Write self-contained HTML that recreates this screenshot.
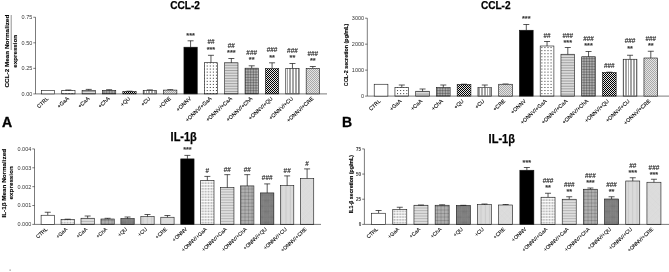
<!DOCTYPE html>
<html><head><meta charset="utf-8"><title>Figure</title>
<style>html,body{margin:0;padding:0;background:#fff}svg{display:block}</style></head>
<body><svg width="669" height="272" viewBox="0 0 669 272">
<rect width="669" height="272" fill="#fff"/>

<path d="M35.5 17.25V93.9H327" fill="none" stroke="#222" stroke-width="0.6"/>
<path d="M33.3 93.90H35.5" stroke="#222" stroke-width="0.6"/>
<text x="32.3" y="95.80" font-size="5.5" font-weight="normal" text-anchor="end" fill="#333" font-family="Liberation Sans, Arial, sans-serif">0.00</text>
<path d="M33.3 68.35H35.5" stroke="#222" stroke-width="0.6"/>
<text x="32.3" y="70.25" font-size="5.5" font-weight="normal" text-anchor="end" fill="#333" font-family="Liberation Sans, Arial, sans-serif">0.25</text>
<path d="M33.3 42.80H35.5" stroke="#222" stroke-width="0.6"/>
<text x="32.3" y="44.70" font-size="5.5" font-weight="normal" text-anchor="end" fill="#333" font-family="Liberation Sans, Arial, sans-serif">0.50</text>
<path d="M33.3 17.25H35.5" stroke="#222" stroke-width="0.6"/>
<text x="32.3" y="19.15" font-size="5.5" font-weight="normal" text-anchor="end" fill="#333" font-family="Liberation Sans, Arial, sans-serif">0.75</text>
<rect x="41.35" y="90.4" width="13.3" height="3.50" fill="#fff" stroke="#111" stroke-width="0.6"/>
<text transform="translate(49.00 99.10) rotate(-43)" font-size="5.3" text-anchor="end" fill="#000" stroke="#000" stroke-width="0.1" font-family="Liberation Sans, Arial, sans-serif">CTRL</text>
<path d="M68.37 90.4V90M65.37 90H71.37" stroke="#111" stroke-width="0.7" fill="none"/>
<clipPath id="c1"><rect x="61.72" y="90.4" width="13.3" height="3.5"/></clipPath><g clip-path="url(#c1)"><path d="M62.93 90.06V96.97M66 90.06V96.97M69.07 90.06V96.97M72.14 90.06V96.97" stroke="#333" stroke-width="1.0" stroke-dasharray="1.0 2.07" fill="none"/></g>
<rect x="61.72" y="90.4" width="13.3" height="3.50" fill="none" stroke="#111" stroke-width="0.6"/>
<text transform="translate(69.37 99.10) rotate(-43)" font-size="5.3" text-anchor="end" fill="#000" stroke="#000" stroke-width="0.1" font-family="Liberation Sans, Arial, sans-serif">+GaA</text>
<path d="M88.74 90.4V89.4M85.74 89.4H91.74" stroke="#111" stroke-width="0.7" fill="none"/>
<clipPath id="c2"><rect x="82.09" y="90.4" width="13.3" height="3.5"/></clipPath><g clip-path="url(#c2)"><path d="M82.09 89.91H95.39M82.09 91.53H95.39M82.09 93.15H95.39" stroke="#111" stroke-width="0.4" fill="none"/></g>
<rect x="82.09" y="90.4" width="13.3" height="3.50" fill="none" stroke="#111" stroke-width="0.6"/>
<text transform="translate(89.74 99.10) rotate(-43)" font-size="5.3" text-anchor="end" fill="#000" stroke="#000" stroke-width="0.1" font-family="Liberation Sans, Arial, sans-serif">+CaA</text>
<path d="M109.11 90.4V89.7M106.11 89.7H112.11" stroke="#111" stroke-width="0.7" fill="none"/>
<clipPath id="c3"><rect x="102.46" y="90.4" width="13.3" height="3.5"/></clipPath><g clip-path="url(#c3)"><path d="M102.46 90.4H115.76M102.46 92H115.76M102.46 93.6H115.76M103.2 90.4V93.9M104.8 90.4V93.9M106.4 90.4V93.9M108 90.4V93.9M109.6 90.4V93.9M111.2 90.4V93.9M112.8 90.4V93.9M114.4 90.4V93.9" stroke="#111" stroke-width="0.45" fill="none"/></g>
<rect x="102.46" y="90.4" width="13.3" height="3.50" fill="none" stroke="#111" stroke-width="0.6"/>
<text transform="translate(110.11 99.10) rotate(-43)" font-size="5.3" text-anchor="end" fill="#000" stroke="#000" stroke-width="0.1" font-family="Liberation Sans, Arial, sans-serif">+ChA</text>
<path d="M129.48 91.6V91.2M126.48 91.2H132.48" stroke="#111" stroke-width="0.7" fill="none"/>
<clipPath id="c4"><rect x="122.83" y="91.6" width="13.3" height="2.3"/></clipPath><g clip-path="url(#c4)"><path d="M121 91.5H138.13M120 92.5H138.13M121 93.5H138.13" stroke="#000" stroke-width="1" stroke-dasharray="1 1" fill="none" shape-rendering="crispEdges"/><rect x="122.83" y="91.6" width="13.3" height="2.3" fill="#000" opacity="0.1"/></g>
<rect x="122.83" y="91.6" width="13.3" height="2.30" fill="none" stroke="#111" stroke-width="0.6"/>
<text transform="translate(130.48 99.10) rotate(-43)" font-size="5.3" text-anchor="end" fill="#000" stroke="#000" stroke-width="0.1" font-family="Liberation Sans, Arial, sans-serif">+QU</text>
<path d="M149.85 90.4V89.9M146.85 89.9H152.85" stroke="#111" stroke-width="0.7" fill="none"/>
<clipPath id="c5"><rect x="143.2" y="90.4" width="13.3" height="3.5"/></clipPath><g clip-path="url(#c5)"><path d="M143.38 90.4V93.9M144.93 90.4V93.9M146.48 90.4V93.9M148.03 90.4V93.9M149.58 90.4V93.9M151.13 90.4V93.9M152.68 90.4V93.9M154.23 90.4V93.9M155.78 90.4V93.9" stroke="#a4a4a4" stroke-width="1" fill="none" shape-rendering="crispEdges"/></g>
<rect x="143.20" y="90.4" width="13.3" height="3.50" fill="none" stroke="#111" stroke-width="0.6"/>
<text transform="translate(150.85 99.10) rotate(-43)" font-size="5.3" text-anchor="end" fill="#000" stroke="#000" stroke-width="0.1" font-family="Liberation Sans, Arial, sans-serif">+CU</text>
<path d="M170.22 90.1V89.7M167.22 89.7H173.22" stroke="#111" stroke-width="0.7" fill="none"/>
<clipPath id="c6"><rect x="163.57" y="90.1" width="13.3" height="3.8"/></clipPath><g clip-path="url(#c6)"><rect x="163.57" y="90.1" width="13.3" height="3.8" fill="#e4e4e4"/><path d="M162 90.5H178.87M161 91.5H178.87M162 92.5H178.87M161 93.5H178.87" stroke="#a8a8a8" stroke-width="1" stroke-dasharray="1 1" fill="none" shape-rendering="crispEdges"/></g>
<rect x="163.57" y="90.1" width="13.3" height="3.80" fill="none" stroke="#111" stroke-width="0.6"/>
<text transform="translate(171.22 99.10) rotate(-43)" font-size="5.3" text-anchor="end" fill="#000" stroke="#000" stroke-width="0.1" font-family="Liberation Sans, Arial, sans-serif">+CRE</text>
<path d="M190.59 47.2V40.8M187.59 40.8H193.59" stroke="#111" stroke-width="0.7" fill="none"/>
<rect x="183.94" y="47.2" width="13.3" height="46.70" fill="#000" stroke="#111" stroke-width="0.6"/>
<text x="190.59" y="37.80" font-size="7.3" font-weight="bold" text-anchor="middle" fill="#333" stroke="#333" stroke-width="0.1" font-family="Liberation Sans, Arial, sans-serif">***</text>
<text transform="translate(191.59 99.10) rotate(-43)" font-size="5.3" text-anchor="end" fill="#000" stroke="#000" stroke-width="0.1" font-family="Liberation Sans, Arial, sans-serif">+ONNV</text>
<path d="M210.96 62.7V55.3M207.96 55.3H213.96" stroke="#111" stroke-width="0.7" fill="none"/>
<clipPath id="c7"><rect x="204.31" y="62.7" width="13.3" height="31.2"/></clipPath><g clip-path="url(#c7)"><path d="M204.15 62.43V96.97M207.22 62.43V96.97M210.29 62.43V96.97M213.36 62.43V96.97M216.43 62.43V96.97" stroke="#333" stroke-width="1.0" stroke-dasharray="1.0 2.07" fill="none"/></g>
<rect x="204.31" y="62.7" width="13.3" height="31.20" fill="none" stroke="#111" stroke-width="0.6"/>
<text x="210.96" y="44.30" font-size="6.4" text-anchor="middle" fill="#111" stroke="#111" stroke-width="0.1" font-family="Liberation Sans, Arial, sans-serif">##</text>
<text x="210.96" y="52.05" font-size="7.3" font-weight="bold" text-anchor="middle" fill="#333" stroke="#333" stroke-width="0.1" font-family="Liberation Sans, Arial, sans-serif">***</text>
<text transform="translate(211.96 99.10) rotate(-43)" font-size="5.3" text-anchor="end" fill="#000" stroke="#000" stroke-width="0.1" font-family="Liberation Sans, Arial, sans-serif">+ONNV/+GaA</text>
<path d="M231.33 62.8V58.5M228.33 58.5H234.33" stroke="#111" stroke-width="0.7" fill="none"/>
<clipPath id="c8"><rect x="224.68" y="62.8" width="13.3" height="31.1"/></clipPath><g clip-path="url(#c8)"><path d="M224.68 62.37H237.98M224.68 63.99H237.98M224.68 65.61H237.98M224.68 67.23H237.98M224.68 68.85H237.98M224.68 70.47H237.98M224.68 72.09H237.98M224.68 73.71H237.98M224.68 75.33H237.98M224.68 76.95H237.98M224.68 78.57H237.98M224.68 80.19H237.98M224.68 81.81H237.98M224.68 83.43H237.98M224.68 85.05H237.98M224.68 86.67H237.98M224.68 88.29H237.98M224.68 89.91H237.98M224.68 91.53H237.98M224.68 93.15H237.98" stroke="#111" stroke-width="0.4" fill="none"/></g>
<rect x="224.68" y="62.8" width="13.3" height="31.10" fill="none" stroke="#111" stroke-width="0.6"/>
<text x="231.33" y="47.80" font-size="6.4" text-anchor="middle" fill="#111" stroke="#111" stroke-width="0.1" font-family="Liberation Sans, Arial, sans-serif">##</text>
<text x="231.33" y="55.30" font-size="7.3" font-weight="bold" text-anchor="middle" fill="#333" stroke="#333" stroke-width="0.1" font-family="Liberation Sans, Arial, sans-serif">***</text>
<text transform="translate(232.33 99.10) rotate(-43)" font-size="5.3" text-anchor="end" fill="#000" stroke="#000" stroke-width="0.1" font-family="Liberation Sans, Arial, sans-serif">+ONNV/+CaA</text>
<path d="M251.70 68.2V65.8M248.70 65.8H254.70" stroke="#111" stroke-width="0.7" fill="none"/>
<clipPath id="c9"><rect x="245.05" y="68.2" width="13.3" height="25.7"/></clipPath><g clip-path="url(#c9)"><path d="M245.05 68H258.35M245.05 69.6H258.35M245.05 71.2H258.35M245.05 72.8H258.35M245.05 74.4H258.35M245.05 76H258.35M245.05 77.6H258.35M245.05 79.2H258.35M245.05 80.8H258.35M245.05 82.4H258.35M245.05 84H258.35M245.05 85.6H258.35M245.05 87.2H258.35M245.05 88.8H258.35M245.05 90.4H258.35M245.05 92H258.35M245.05 93.6H258.35M245.6 68.2V93.9M247.2 68.2V93.9M248.8 68.2V93.9M250.4 68.2V93.9M252 68.2V93.9M253.6 68.2V93.9M255.2 68.2V93.9M256.8 68.2V93.9" stroke="#111" stroke-width="0.45" fill="none"/></g>
<rect x="245.05" y="68.2" width="13.3" height="25.70" fill="none" stroke="#111" stroke-width="0.6"/>
<text x="251.70" y="54.80" font-size="6.4" text-anchor="middle" fill="#111" stroke="#111" stroke-width="0.1" font-family="Liberation Sans, Arial, sans-serif">###</text>
<text x="251.70" y="62.05" font-size="7.3" font-weight="bold" text-anchor="middle" fill="#333" stroke="#333" stroke-width="0.1" font-family="Liberation Sans, Arial, sans-serif">**</text>
<text transform="translate(252.70 99.10) rotate(-43)" font-size="5.3" text-anchor="end" fill="#000" stroke="#000" stroke-width="0.1" font-family="Liberation Sans, Arial, sans-serif">+ONNV/+ChA</text>
<path d="M272.07 68.5V62.8M269.07 62.8H275.07" stroke="#111" stroke-width="0.7" fill="none"/>
<clipPath id="c10"><rect x="265.42" y="68.5" width="13.3" height="25.4"/></clipPath><g clip-path="url(#c10)"><path d="M264 68.5H280.72M263 69.5H280.72M264 70.5H280.72M263 71.5H280.72M264 72.5H280.72M263 73.5H280.72M264 74.5H280.72M263 75.5H280.72M264 76.5H280.72M263 77.5H280.72M264 78.5H280.72M263 79.5H280.72M264 80.5H280.72M263 81.5H280.72M264 82.5H280.72M263 83.5H280.72M264 84.5H280.72M263 85.5H280.72M264 86.5H280.72M263 87.5H280.72M264 88.5H280.72M263 89.5H280.72M264 90.5H280.72M263 91.5H280.72M264 92.5H280.72M263 93.5H280.72" stroke="#000" stroke-width="1" stroke-dasharray="1 1" fill="none" shape-rendering="crispEdges"/><rect x="265.42" y="68.5" width="13.3" height="25.4" fill="#000" opacity="0.1"/></g>
<rect x="265.42" y="68.5" width="13.3" height="25.40" fill="none" stroke="#111" stroke-width="0.6"/>
<text x="272.07" y="52.30" font-size="6.4" text-anchor="middle" fill="#111" stroke="#111" stroke-width="0.1" font-family="Liberation Sans, Arial, sans-serif">###</text>
<text x="272.07" y="59.55" font-size="7.3" font-weight="bold" text-anchor="middle" fill="#333" stroke="#333" stroke-width="0.1" font-family="Liberation Sans, Arial, sans-serif">**</text>
<text transform="translate(273.07 99.10) rotate(-43)" font-size="5.3" text-anchor="end" fill="#000" stroke="#000" stroke-width="0.1" font-family="Liberation Sans, Arial, sans-serif">+ONNV/+QU</text>
<path d="M292.44 68.3V63.5M289.44 63.5H295.44" stroke="#111" stroke-width="0.7" fill="none"/>
<clipPath id="c11"><rect x="285.79" y="68.3" width="13.3" height="25.6"/></clipPath><g clip-path="url(#c11)"><path d="M285.97 68.3V93.9M287.52 68.3V93.9M289.07 68.3V93.9M290.62 68.3V93.9M292.18 68.3V93.9M293.73 68.3V93.9M295.28 68.3V93.9M296.83 68.3V93.9M298.38 68.3V93.9" stroke="#a4a4a4" stroke-width="1" fill="none" shape-rendering="crispEdges"/></g>
<rect x="285.79" y="68.3" width="13.3" height="25.60" fill="none" stroke="#111" stroke-width="0.6"/>
<text x="292.44" y="53.05" font-size="6.4" text-anchor="middle" fill="#111" stroke="#111" stroke-width="0.1" font-family="Liberation Sans, Arial, sans-serif">###</text>
<text x="292.44" y="60.30" font-size="7.3" font-weight="bold" text-anchor="middle" fill="#333" stroke="#333" stroke-width="0.1" font-family="Liberation Sans, Arial, sans-serif">**</text>
<text transform="translate(293.44 99.10) rotate(-43)" font-size="5.3" text-anchor="end" fill="#000" stroke="#000" stroke-width="0.1" font-family="Liberation Sans, Arial, sans-serif">+ONNV/+CU</text>
<path d="M312.81 68.3V66.5M309.81 66.5H315.81" stroke="#111" stroke-width="0.7" fill="none"/>
<clipPath id="c12"><rect x="306.16" y="68.3" width="13.3" height="25.6"/></clipPath><g clip-path="url(#c12)"><rect x="306.16" y="68.3" width="13.3" height="25.6" fill="#e4e4e4"/><path d="M304 68.5H321.46M305 69.5H321.46M304 70.5H321.46M305 71.5H321.46M304 72.5H321.46M305 73.5H321.46M304 74.5H321.46M305 75.5H321.46M304 76.5H321.46M305 77.5H321.46M304 78.5H321.46M305 79.5H321.46M304 80.5H321.46M305 81.5H321.46M304 82.5H321.46M305 83.5H321.46M304 84.5H321.46M305 85.5H321.46M304 86.5H321.46M305 87.5H321.46M304 88.5H321.46M305 89.5H321.46M304 90.5H321.46M305 91.5H321.46M304 92.5H321.46M305 93.5H321.46" stroke="#a8a8a8" stroke-width="1" stroke-dasharray="1 1" fill="none" shape-rendering="crispEdges"/></g>
<rect x="306.16" y="68.3" width="13.3" height="25.60" fill="none" stroke="#111" stroke-width="0.6"/>
<text x="312.81" y="55.55" font-size="6.4" text-anchor="middle" fill="#111" stroke="#111" stroke-width="0.1" font-family="Liberation Sans, Arial, sans-serif">###</text>
<text x="312.81" y="62.80" font-size="7.3" font-weight="bold" text-anchor="middle" fill="#333" stroke="#333" stroke-width="0.1" font-family="Liberation Sans, Arial, sans-serif">**</text>
<text transform="translate(313.81 99.10) rotate(-43)" font-size="5.3" text-anchor="end" fill="#000" stroke="#000" stroke-width="0.1" font-family="Liberation Sans, Arial, sans-serif">+ONNV/+CRE</text>
<text x="170.2" y="8.8" font-size="11.3" font-weight="bold" textLength="29.8" lengthAdjust="spacingAndGlyphs" fill="#000" stroke="#000" stroke-width="0.25" font-family="Liberation Sans, Arial, sans-serif">CCL-2</text>
<text transform="translate(9.1 87.5) rotate(-90)" font-size="5.8" font-weight="bold" textLength="72.8" lengthAdjust="spacingAndGlyphs" fill="#000" stroke="#000" stroke-width="0.12" font-family="Liberation Sans, Arial, sans-serif">CCL-2 Mean Normalized</text>
<text transform="translate(16.7 67.7) rotate(-90)" font-size="5.8" font-weight="bold" textLength="32.8" lengthAdjust="spacingAndGlyphs" fill="#000" stroke="#000" stroke-width="0.12" font-family="Liberation Sans, Arial, sans-serif">expression</text>
<path d="M367.3 18.2V96.1H669" fill="none" stroke="#222" stroke-width="0.6"/>
<path d="M365.1 96.10H367.3" stroke="#222" stroke-width="0.6"/>
<text x="364.1" y="98.00" font-size="5.5" font-weight="normal" text-anchor="end" fill="#333" font-family="Liberation Sans, Arial, sans-serif">0</text>
<path d="M365.1 70.13H367.3" stroke="#222" stroke-width="0.6"/>
<text x="364.1" y="72.03" font-size="5.5" font-weight="normal" text-anchor="end" fill="#333" font-family="Liberation Sans, Arial, sans-serif">1000</text>
<path d="M365.1 44.17H367.3" stroke="#222" stroke-width="0.6"/>
<text x="364.1" y="46.07" font-size="5.5" font-weight="normal" text-anchor="end" fill="#333" font-family="Liberation Sans, Arial, sans-serif">2000</text>
<path d="M365.1 18.20H367.3" stroke="#222" stroke-width="0.6"/>
<text x="364.1" y="20.10" font-size="5.5" font-weight="normal" text-anchor="end" fill="#333" font-family="Liberation Sans, Arial, sans-serif">3000</text>
<rect x="374.20" y="84.25" width="13.7" height="11.85" fill="#fff" stroke="#111" stroke-width="0.6"/>
<text transform="translate(381.05 101.60) rotate(-43)" font-size="5.3" text-anchor="end" fill="#000" stroke="#000" stroke-width="0.1" font-family="Liberation Sans, Arial, sans-serif">CTRL</text>
<path d="M401.80 87.5V85M398.80 85H404.80" stroke="#111" stroke-width="0.7" fill="none"/>
<clipPath id="c13"><rect x="394.95" y="87.5" width="13.7" height="8.6"/></clipPath><g clip-path="url(#c13)"><path d="M394.5 86.99V99.17M397.56 86.99V99.17M400.63 86.99V99.17M403.7 86.99V99.17M406.77 86.99V99.17" stroke="#333" stroke-width="1.0" stroke-dasharray="1.0 2.07" fill="none"/></g>
<rect x="394.95" y="87.5" width="13.7" height="8.60" fill="none" stroke="#111" stroke-width="0.6"/>
<text transform="translate(401.80 101.60) rotate(-43)" font-size="5.3" text-anchor="end" fill="#000" stroke="#000" stroke-width="0.1" font-family="Liberation Sans, Arial, sans-serif">+GaA</text>
<path d="M422.55 91.25V89M419.55 89H425.55" stroke="#111" stroke-width="0.7" fill="none"/>
<clipPath id="c14"><rect x="415.7" y="91.25" width="13.7" height="4.85"/></clipPath><g clip-path="url(#c14)"><path d="M415.7 91.53H429.4M415.7 93.15H429.4M415.7 94.77H429.4" stroke="#111" stroke-width="0.4" fill="none"/></g>
<rect x="415.70" y="91.25" width="13.7" height="4.85" fill="none" stroke="#111" stroke-width="0.6"/>
<text transform="translate(422.55 101.60) rotate(-43)" font-size="5.3" text-anchor="end" fill="#000" stroke="#000" stroke-width="0.1" font-family="Liberation Sans, Arial, sans-serif">+CaA</text>
<path d="M443.30 87.5V85M440.30 85H446.30" stroke="#111" stroke-width="0.7" fill="none"/>
<clipPath id="c15"><rect x="436.45" y="87.5" width="13.7" height="8.6"/></clipPath><g clip-path="url(#c15)"><path d="M436.45 87.2H450.15M436.45 88.8H450.15M436.45 90.4H450.15M436.45 92H450.15M436.45 93.6H450.15M436.45 95.2H450.15M436 87.5V96.1M437.6 87.5V96.1M439.2 87.5V96.1M440.8 87.5V96.1M442.4 87.5V96.1M444 87.5V96.1M445.6 87.5V96.1M447.2 87.5V96.1M448.8 87.5V96.1" stroke="#111" stroke-width="0.45" fill="none"/></g>
<rect x="436.45" y="87.5" width="13.7" height="8.60" fill="none" stroke="#111" stroke-width="0.6"/>
<text transform="translate(443.30 101.60) rotate(-43)" font-size="5.3" text-anchor="end" fill="#000" stroke="#000" stroke-width="0.1" font-family="Liberation Sans, Arial, sans-serif">+ChA</text>
<path d="M464.05 84.5V84.2M461.05 84.2H467.05" stroke="#111" stroke-width="0.7" fill="none"/>
<clipPath id="c16"><rect x="457.2" y="84.5" width="13.7" height="11.6"/></clipPath><g clip-path="url(#c16)"><path d="M456 84.5H472.9M455 85.5H472.9M456 86.5H472.9M455 87.5H472.9M456 88.5H472.9M455 89.5H472.9M456 90.5H472.9M455 91.5H472.9M456 92.5H472.9M455 93.5H472.9M456 94.5H472.9M455 95.5H472.9M456 96.5H472.9" stroke="#000" stroke-width="1" stroke-dasharray="1 1" fill="none" shape-rendering="crispEdges"/><rect x="457.2" y="84.5" width="13.7" height="11.6" fill="#000" opacity="0.1"/></g>
<rect x="457.20" y="84.5" width="13.7" height="11.60" fill="none" stroke="#111" stroke-width="0.6"/>
<text transform="translate(464.05 101.60) rotate(-43)" font-size="5.3" text-anchor="end" fill="#000" stroke="#000" stroke-width="0.1" font-family="Liberation Sans, Arial, sans-serif">+QU</text>
<path d="M484.80 87.5V85M481.80 85H487.80" stroke="#111" stroke-width="0.7" fill="none"/>
<clipPath id="c17"><rect x="477.95" y="87.5" width="13.7" height="8.6"/></clipPath><g clip-path="url(#c17)"><path d="M478.18 87.5V96.1M479.73 87.5V96.1M481.28 87.5V96.1M482.83 87.5V96.1M484.38 87.5V96.1M485.93 87.5V96.1M487.48 87.5V96.1M489.03 87.5V96.1M490.58 87.5V96.1" stroke="#a4a4a4" stroke-width="1" fill="none" shape-rendering="crispEdges"/></g>
<rect x="477.95" y="87.5" width="13.7" height="8.60" fill="none" stroke="#111" stroke-width="0.6"/>
<text transform="translate(484.80 101.60) rotate(-43)" font-size="5.3" text-anchor="end" fill="#000" stroke="#000" stroke-width="0.1" font-family="Liberation Sans, Arial, sans-serif">+CU</text>
<path d="M505.55 84.25V84M502.55 84H508.55" stroke="#111" stroke-width="0.7" fill="none"/>
<clipPath id="c18"><rect x="498.7" y="84.25" width="13.7" height="11.85"/></clipPath><g clip-path="url(#c18)"><rect x="498.7" y="84.25" width="13.7" height="11.85" fill="#e4e4e4"/><path d="M496 84.5H514.4M497 85.5H514.4M496 86.5H514.4M497 87.5H514.4M496 88.5H514.4M497 89.5H514.4M496 90.5H514.4M497 91.5H514.4M496 92.5H514.4M497 93.5H514.4M496 94.5H514.4M497 95.5H514.4M496 96.5H514.4" stroke="#a8a8a8" stroke-width="1" stroke-dasharray="1 1" fill="none" shape-rendering="crispEdges"/></g>
<rect x="498.70" y="84.25" width="13.7" height="11.85" fill="none" stroke="#111" stroke-width="0.6"/>
<text transform="translate(505.55 101.60) rotate(-43)" font-size="5.3" text-anchor="end" fill="#000" stroke="#000" stroke-width="0.1" font-family="Liberation Sans, Arial, sans-serif">+CRE</text>
<path d="M526.30 30.25V24.5M523.30 24.5H529.30" stroke="#111" stroke-width="0.7" fill="none"/>
<rect x="519.45" y="30.25" width="13.7" height="65.85" fill="#000" stroke="#111" stroke-width="0.6"/>
<text x="526.30" y="21.30" font-size="7.3" font-weight="bold" text-anchor="middle" fill="#333" stroke="#333" stroke-width="0.1" font-family="Liberation Sans, Arial, sans-serif">***</text>
<text transform="translate(526.30 101.60) rotate(-43)" font-size="5.3" text-anchor="end" fill="#000" stroke="#000" stroke-width="0.1" font-family="Liberation Sans, Arial, sans-serif">+ONNV</text>
<path d="M547.05 46V41.5M544.05 41.5H550.05" stroke="#111" stroke-width="0.7" fill="none"/>
<clipPath id="c19"><rect x="540.2" y="46" width="13.7" height="50.1"/></clipPath><g clip-path="url(#c19)"><path d="M538.78 44.01V99.17M541.86 44.01V99.17M544.93 44.01V99.17M548 44.01V99.17M551.07 44.01V99.17" stroke="#333" stroke-width="1.0" stroke-dasharray="1.0 2.07" fill="none"/></g>
<rect x="540.20" y="46" width="13.7" height="50.10" fill="none" stroke="#111" stroke-width="0.6"/>
<text x="547.05" y="38.05" font-size="6.4" text-anchor="middle" fill="#111" stroke="#111" stroke-width="0.1" font-family="Liberation Sans, Arial, sans-serif">##</text>
<text transform="translate(547.05 101.60) rotate(-43)" font-size="5.3" text-anchor="end" fill="#000" stroke="#000" stroke-width="0.1" font-family="Liberation Sans, Arial, sans-serif">+ONNV/+GaA</text>
<path d="M567.80 54.25V47.5M564.80 47.5H570.80" stroke="#111" stroke-width="0.7" fill="none"/>
<clipPath id="c20"><rect x="560.95" y="54.25" width="13.7" height="41.85"/></clipPath><g clip-path="url(#c20)"><path d="M560.95 54.27H574.65M560.95 55.89H574.65M560.95 57.51H574.65M560.95 59.13H574.65M560.95 60.75H574.65M560.95 62.37H574.65M560.95 63.99H574.65M560.95 65.61H574.65M560.95 67.23H574.65M560.95 68.85H574.65M560.95 70.47H574.65M560.95 72.09H574.65M560.95 73.71H574.65M560.95 75.33H574.65M560.95 76.95H574.65M560.95 78.57H574.65M560.95 80.19H574.65M560.95 81.81H574.65M560.95 83.43H574.65M560.95 85.05H574.65M560.95 86.67H574.65M560.95 88.29H574.65M560.95 89.91H574.65M560.95 91.53H574.65M560.95 93.15H574.65M560.95 94.77H574.65" stroke="#111" stroke-width="0.4" fill="none"/></g>
<rect x="560.95" y="54.25" width="13.7" height="41.85" fill="none" stroke="#111" stroke-width="0.6"/>
<text x="567.80" y="37.80" font-size="6.4" text-anchor="middle" fill="#111" stroke="#111" stroke-width="0.1" font-family="Liberation Sans, Arial, sans-serif">###</text>
<text x="567.80" y="45.05" font-size="7.3" font-weight="bold" text-anchor="middle" fill="#333" stroke="#333" stroke-width="0.1" font-family="Liberation Sans, Arial, sans-serif">***</text>
<text transform="translate(567.80 101.60) rotate(-43)" font-size="5.3" text-anchor="end" fill="#000" stroke="#000" stroke-width="0.1" font-family="Liberation Sans, Arial, sans-serif">+ONNV/+CaA</text>
<path d="M588.55 56.75V51.5M585.55 51.5H591.55" stroke="#111" stroke-width="0.7" fill="none"/>
<clipPath id="c21"><rect x="581.7" y="56.75" width="13.7" height="39.35"/></clipPath><g clip-path="url(#c21)"><path d="M581.7 56.8H595.4M581.7 58.4H595.4M581.7 60H595.4M581.7 61.6H595.4M581.7 63.2H595.4M581.7 64.8H595.4M581.7 66.4H595.4M581.7 68H595.4M581.7 69.6H595.4M581.7 71.2H595.4M581.7 72.8H595.4M581.7 74.4H595.4M581.7 76H595.4M581.7 77.6H595.4M581.7 79.2H595.4M581.7 80.8H595.4M581.7 82.4H595.4M581.7 84H595.4M581.7 85.6H595.4M581.7 87.2H595.4M581.7 88.8H595.4M581.7 90.4H595.4M581.7 92H595.4M581.7 93.6H595.4M581.7 95.2H595.4M581.6 56.75V96.1M583.2 56.75V96.1M584.8 56.75V96.1M586.4 56.75V96.1M588 56.75V96.1M589.6 56.75V96.1M591.2 56.75V96.1M592.8 56.75V96.1M594.4 56.75V96.1" stroke="#111" stroke-width="0.45" fill="none"/></g>
<rect x="581.70" y="56.75" width="13.7" height="39.35" fill="none" stroke="#111" stroke-width="0.6"/>
<text x="588.55" y="41.05" font-size="6.4" text-anchor="middle" fill="#111" stroke="#111" stroke-width="0.1" font-family="Liberation Sans, Arial, sans-serif">###</text>
<text x="588.55" y="48.30" font-size="7.3" font-weight="bold" text-anchor="middle" fill="#333" stroke="#333" stroke-width="0.1" font-family="Liberation Sans, Arial, sans-serif">***</text>
<text transform="translate(588.55 101.60) rotate(-43)" font-size="5.3" text-anchor="end" fill="#000" stroke="#000" stroke-width="0.1" font-family="Liberation Sans, Arial, sans-serif">+ONNV/+ChA</text>
<path d="M609.30 72.5V72.2M606.30 72.2H612.30" stroke="#111" stroke-width="0.7" fill="none"/>
<clipPath id="c22"><rect x="602.45" y="72.5" width="13.7" height="23.6"/></clipPath><g clip-path="url(#c22)"><path d="M600 72.5H618.15M601 73.5H618.15M600 74.5H618.15M601 75.5H618.15M600 76.5H618.15M601 77.5H618.15M600 78.5H618.15M601 79.5H618.15M600 80.5H618.15M601 81.5H618.15M600 82.5H618.15M601 83.5H618.15M600 84.5H618.15M601 85.5H618.15M600 86.5H618.15M601 87.5H618.15M600 88.5H618.15M601 89.5H618.15M600 90.5H618.15M601 91.5H618.15M600 92.5H618.15M601 93.5H618.15M600 94.5H618.15M601 95.5H618.15M600 96.5H618.15" stroke="#000" stroke-width="1" stroke-dasharray="1 1" fill="none" shape-rendering="crispEdges"/><rect x="602.45" y="72.5" width="13.7" height="23.6" fill="#000" opacity="0.1"/></g>
<rect x="602.45" y="72.5" width="13.7" height="23.60" fill="none" stroke="#111" stroke-width="0.6"/>
<text x="609.30" y="68.30" font-size="6.4" text-anchor="middle" fill="#111" stroke="#111" stroke-width="0.1" font-family="Liberation Sans, Arial, sans-serif">###</text>
<text transform="translate(609.30 101.60) rotate(-43)" font-size="5.3" text-anchor="end" fill="#000" stroke="#000" stroke-width="0.1" font-family="Liberation Sans, Arial, sans-serif">+ONNV/+QU</text>
<path d="M630.05 59.25V55.25M627.05 55.25H633.05" stroke="#111" stroke-width="0.7" fill="none"/>
<clipPath id="c23"><rect x="623.2" y="59.25" width="13.7" height="36.85"/></clipPath><g clip-path="url(#c23)"><path d="M623.88 59.25V96.1M625.42 59.25V96.1M626.97 59.25V96.1M628.52 59.25V96.1M630.07 59.25V96.1M631.62 59.25V96.1M633.17 59.25V96.1M634.72 59.25V96.1M636.27 59.25V96.1" stroke="#a4a4a4" stroke-width="1" fill="none" shape-rendering="crispEdges"/></g>
<rect x="623.20" y="59.25" width="13.7" height="36.85" fill="none" stroke="#111" stroke-width="0.6"/>
<text x="630.05" y="43.30" font-size="6.4" text-anchor="middle" fill="#111" stroke="#111" stroke-width="0.1" font-family="Liberation Sans, Arial, sans-serif">###</text>
<text x="630.05" y="51.30" font-size="7.3" font-weight="bold" text-anchor="middle" fill="#333" stroke="#333" stroke-width="0.1" font-family="Liberation Sans, Arial, sans-serif">**</text>
<text transform="translate(630.05 101.60) rotate(-43)" font-size="5.3" text-anchor="end" fill="#000" stroke="#000" stroke-width="0.1" font-family="Liberation Sans, Arial, sans-serif">+ONNV/+CU</text>
<path d="M650.80 58V51.25M647.80 51.25H653.80" stroke="#111" stroke-width="0.7" fill="none"/>
<clipPath id="c24"><rect x="643.95" y="58" width="13.7" height="38.1"/></clipPath><g clip-path="url(#c24)"><rect x="643.95" y="58" width="13.7" height="38.1" fill="#e4e4e4"/><path d="M642 58.5H659.65M641 59.5H659.65M642 60.5H659.65M641 61.5H659.65M642 62.5H659.65M641 63.5H659.65M642 64.5H659.65M641 65.5H659.65M642 66.5H659.65M641 67.5H659.65M642 68.5H659.65M641 69.5H659.65M642 70.5H659.65M641 71.5H659.65M642 72.5H659.65M641 73.5H659.65M642 74.5H659.65M641 75.5H659.65M642 76.5H659.65M641 77.5H659.65M642 78.5H659.65M641 79.5H659.65M642 80.5H659.65M641 81.5H659.65M642 82.5H659.65M641 83.5H659.65M642 84.5H659.65M641 85.5H659.65M642 86.5H659.65M641 87.5H659.65M642 88.5H659.65M641 89.5H659.65M642 90.5H659.65M641 91.5H659.65M642 92.5H659.65M641 93.5H659.65M642 94.5H659.65M641 95.5H659.65M642 96.5H659.65" stroke="#a8a8a8" stroke-width="1" stroke-dasharray="1 1" fill="none" shape-rendering="crispEdges"/></g>
<rect x="643.95" y="58" width="13.7" height="38.10" fill="none" stroke="#111" stroke-width="0.6"/>
<text x="650.80" y="41.05" font-size="6.4" text-anchor="middle" fill="#111" stroke="#111" stroke-width="0.1" font-family="Liberation Sans, Arial, sans-serif">###</text>
<text x="650.80" y="48.30" font-size="7.3" font-weight="bold" text-anchor="middle" fill="#333" stroke="#333" stroke-width="0.1" font-family="Liberation Sans, Arial, sans-serif">**</text>
<text transform="translate(650.80 101.60) rotate(-43)" font-size="5.3" text-anchor="end" fill="#000" stroke="#000" stroke-width="0.1" font-family="Liberation Sans, Arial, sans-serif">+ONNV/+CRE</text>
<text x="480.9" y="8.7" font-size="11.3" font-weight="bold" textLength="29.7" lengthAdjust="spacingAndGlyphs" fill="#000" stroke="#000" stroke-width="0.25" font-family="Liberation Sans, Arial, sans-serif">CCL-2</text>
<text transform="translate(348.3 86.2) rotate(-90)" font-size="5.4" font-weight="bold" textLength="62.5" lengthAdjust="spacingAndGlyphs" fill="#000" stroke="#000" stroke-width="0.12" font-family="Liberation Sans, Arial, sans-serif">CCL-2 secretion (pg/mL)</text>
<path d="M34.5 148.9V224.4H321" fill="none" stroke="#222" stroke-width="0.6"/>
<path d="M32.3 224.40H34.5" stroke="#222" stroke-width="0.6"/>
<text x="31.3" y="226.30" font-size="5.5" font-weight="normal" text-anchor="end" fill="#333" font-family="Liberation Sans, Arial, sans-serif">0.000</text>
<path d="M32.3 205.53H34.5" stroke="#222" stroke-width="0.6"/>
<text x="31.3" y="207.43" font-size="5.5" font-weight="normal" text-anchor="end" fill="#333" font-family="Liberation Sans, Arial, sans-serif">0.001</text>
<path d="M32.3 186.65H34.5" stroke="#222" stroke-width="0.6"/>
<text x="31.3" y="188.55" font-size="5.5" font-weight="normal" text-anchor="end" fill="#333" font-family="Liberation Sans, Arial, sans-serif">0.002</text>
<path d="M32.3 167.78H34.5" stroke="#222" stroke-width="0.6"/>
<text x="31.3" y="169.68" font-size="5.5" font-weight="normal" text-anchor="end" fill="#333" font-family="Liberation Sans, Arial, sans-serif">0.003</text>
<path d="M32.3 148.90H34.5" stroke="#222" stroke-width="0.6"/>
<text x="31.3" y="150.80" font-size="5.5" font-weight="normal" text-anchor="end" fill="#333" font-family="Liberation Sans, Arial, sans-serif">0.004</text>
<path d="M47.75 215.25V212.25M44.75 212.25H50.75" stroke="#111" stroke-width="0.7" fill="none"/>
<rect x="41.10" y="215.25" width="13.3" height="9.15" fill="#fff" stroke="#111" stroke-width="0.6"/>
<text transform="translate(47.75 229.70) rotate(-43)" font-size="5.15" text-anchor="end" fill="#000" stroke="#000" stroke-width="0.1" font-family="Liberation Sans, Arial, sans-serif">CTRL</text>
<path d="M67.70 219.5V219.2M64.70 219.2H70.70" stroke="#111" stroke-width="0.7" fill="none"/>
<clipPath id="c25"><rect x="61.05" y="219.5" width="13.3" height="4.9"/></clipPath><g clip-path="url(#c25)"><path d="M61.23 219.03V225.95M62.77 219.03V225.95M64.33 219.03V225.95M65.88 219.03V225.95M67.42 219.03V225.95M68.97 219.03V225.95M70.52 219.03V225.95M72.07 219.03V225.95M73.62 219.03V225.95" stroke="#333" stroke-width="0.6" stroke-dasharray="0.6 0.95" fill="none"/></g>
<rect x="61.05" y="219.5" width="13.3" height="4.90" fill="none" stroke="#111" stroke-width="0.6"/>
<text transform="translate(67.70 229.70) rotate(-43)" font-size="5.15" text-anchor="end" fill="#000" stroke="#000" stroke-width="0.1" font-family="Liberation Sans, Arial, sans-serif">+GaA</text>
<path d="M87.65 218.25V216M84.65 216H90.65" stroke="#111" stroke-width="0.7" fill="none"/>
<clipPath id="c26"><rect x="81" y="218.25" width="13.3" height="6.15"/></clipPath><g clip-path="url(#c26)"><path d="M81 218.4H94.3M81 220H94.3M81 221.6H94.3M81 223.2H94.3" stroke="#111" stroke-width="0.33" fill="none"/></g>
<rect x="81.00" y="218.25" width="13.3" height="6.15" fill="none" stroke="#111" stroke-width="0.6"/>
<text transform="translate(87.65 229.70) rotate(-43)" font-size="5.15" text-anchor="end" fill="#000" stroke="#000" stroke-width="0.1" font-family="Liberation Sans, Arial, sans-serif">+CaA</text>
<path d="M107.60 219V218.3M104.60 218.3H110.60" stroke="#111" stroke-width="0.7" fill="none"/>
<clipPath id="c27"><rect x="100.95" y="219" width="13.3" height="5.4"/></clipPath><g clip-path="url(#c27)"><path d="M100.95 219.1H114.25M100.95 220.5H114.25M100.95 221.9H114.25M100.95 223.3H114.25M101.5 219V224.4M102.9 219V224.4M104.3 219V224.4M105.7 219V224.4M107.1 219V224.4M108.5 219V224.4M109.9 219V224.4M111.3 219V224.4M112.7 219V224.4M114.1 219V224.4" stroke="#111" stroke-width="0.32" fill="none"/></g>
<rect x="100.95" y="219" width="13.3" height="5.40" fill="none" stroke="#111" stroke-width="0.6"/>
<text transform="translate(107.60 229.70) rotate(-43)" font-size="5.15" text-anchor="end" fill="#000" stroke="#000" stroke-width="0.1" font-family="Liberation Sans, Arial, sans-serif">+ChA</text>
<path d="M127.55 218.5V217M124.55 217H130.55" stroke="#111" stroke-width="0.7" fill="none"/>
<clipPath id="c28"><rect x="120.9" y="218.5" width="13.3" height="5.9"/></clipPath><g clip-path="url(#c28)"><path d="M119.35 218.63H135.3M118.8 219.18H135.3M119.35 219.73H135.3M118.8 220.28H135.3M119.35 220.83H135.3M118.8 221.38H135.3M119.35 221.93H135.3M118.8 222.48H135.3M119.35 223.03H135.3M118.8 223.58H135.3M119.35 224.13H135.3" stroke="#000" stroke-width="0.61" stroke-dasharray="0.62 0.48" fill="none"/></g>
<rect x="120.90" y="218.5" width="13.3" height="5.90" fill="none" stroke="#111" stroke-width="0.6"/>
<text transform="translate(127.55 229.70) rotate(-43)" font-size="5.15" text-anchor="end" fill="#000" stroke="#000" stroke-width="0.1" font-family="Liberation Sans, Arial, sans-serif">+QU</text>
<path d="M147.50 216.5V214.5M144.50 214.5H150.50" stroke="#111" stroke-width="0.7" fill="none"/>
<clipPath id="c29"><rect x="140.85" y="216.5" width="13.3" height="7.9"/></clipPath><g clip-path="url(#c29)"><path d="M141.05 216.5V224.4M142.35 216.5V224.4M143.65 216.5V224.4M144.95 216.5V224.4M146.25 216.5V224.4M147.55 216.5V224.4M148.85 216.5V224.4M150.15 216.5V224.4M151.45 216.5V224.4M152.75 216.5V224.4M154.05 216.5V224.4" stroke="#111" stroke-width="0.23" fill="none"/></g>
<rect x="140.85" y="216.5" width="13.3" height="7.90" fill="none" stroke="#111" stroke-width="0.6"/>
<text transform="translate(147.50 229.70) rotate(-43)" font-size="5.15" text-anchor="end" fill="#000" stroke="#000" stroke-width="0.1" font-family="Liberation Sans, Arial, sans-serif">+CU</text>
<path d="M167.45 217.25V215.5M164.45 215.5H170.45" stroke="#111" stroke-width="0.7" fill="none"/>
<clipPath id="c30"><rect x="160.8" y="217.25" width="13.3" height="7.15"/></clipPath><g clip-path="url(#c30)"><path d="M153.61 217.25l7.15 7.15M154.46 217.25l7.15 7.15M155.31 217.25l7.15 7.15M156.16 217.25l7.15 7.15M157 217.25l7.15 7.15M157.85 217.25l7.15 7.15M158.7 217.25l7.15 7.15M159.55 217.25l7.15 7.15M160.4 217.25l7.15 7.15M161.25 217.25l7.15 7.15M162.1 217.25l7.15 7.15M162.94 217.25l7.15 7.15M163.79 217.25l7.15 7.15M164.64 217.25l7.15 7.15M165.49 217.25l7.15 7.15M166.34 217.25l7.15 7.15M167.19 217.25l7.15 7.15M168.04 217.25l7.15 7.15M168.88 217.25l7.15 7.15M169.73 217.25l7.15 7.15M170.58 217.25l7.15 7.15M171.43 217.25l7.15 7.15M172.28 217.25l7.15 7.15M173.13 217.25l7.15 7.15M173.98 217.25l7.15 7.15M160.35 217.25l-7.15 7.15M161.19 217.25l-7.15 7.15M162.04 217.25l-7.15 7.15M162.89 217.25l-7.15 7.15M163.74 217.25l-7.15 7.15M164.59 217.25l-7.15 7.15M165.44 217.25l-7.15 7.15M166.28 217.25l-7.15 7.15M167.13 217.25l-7.15 7.15M167.98 217.25l-7.15 7.15M168.83 217.25l-7.15 7.15M169.68 217.25l-7.15 7.15M170.53 217.25l-7.15 7.15M171.38 217.25l-7.15 7.15M172.22 217.25l-7.15 7.15M173.07 217.25l-7.15 7.15M173.92 217.25l-7.15 7.15M174.77 217.25l-7.15 7.15M175.62 217.25l-7.15 7.15M176.47 217.25l-7.15 7.15M177.32 217.25l-7.15 7.15M178.16 217.25l-7.15 7.15M179.01 217.25l-7.15 7.15M179.86 217.25l-7.15 7.15M180.71 217.25l-7.15 7.15" stroke="#000" stroke-width="0.07" fill="none"/></g>
<rect x="160.80" y="217.25" width="13.3" height="7.15" fill="none" stroke="#111" stroke-width="0.6"/>
<text transform="translate(167.45 229.70) rotate(-43)" font-size="5.15" text-anchor="end" fill="#000" stroke="#000" stroke-width="0.1" font-family="Liberation Sans, Arial, sans-serif">+CRE</text>
<path d="M187.40 158.9V155.4M184.40 155.4H190.40" stroke="#111" stroke-width="0.7" fill="none"/>
<rect x="180.75" y="158.9" width="13.3" height="65.50" fill="#000" stroke="#111" stroke-width="0.6"/>
<text x="187.40" y="151.80" font-size="7.3" font-weight="bold" text-anchor="middle" fill="#333" stroke="#333" stroke-width="0.1" font-family="Liberation Sans, Arial, sans-serif">***</text>
<text transform="translate(187.40 229.70) rotate(-43)" font-size="5.15" text-anchor="end" fill="#000" stroke="#000" stroke-width="0.1" font-family="Liberation Sans, Arial, sans-serif">+ONNV</text>
<path d="M207.35 180.4V176.4M204.35 176.4H210.35" stroke="#111" stroke-width="0.7" fill="none"/>
<clipPath id="c31"><rect x="200.7" y="180.4" width="13.3" height="44"/></clipPath><g clip-path="url(#c31)"><path d="M200.73 180.28V225.95M202.28 180.28V225.95M203.83 180.28V225.95M205.38 180.28V225.95M206.93 180.28V225.95M208.48 180.28V225.95M210.03 180.28V225.95M211.58 180.28V225.95M213.13 180.28V225.95" stroke="#333" stroke-width="0.6" stroke-dasharray="0.6 0.95" fill="none"/></g>
<rect x="200.70" y="180.4" width="13.3" height="44.00" fill="none" stroke="#111" stroke-width="0.6"/>
<text x="207.35" y="173.30" font-size="6.4" text-anchor="middle" fill="#111" stroke="#111" stroke-width="0.1" font-family="Liberation Sans, Arial, sans-serif">#</text>
<text transform="translate(207.35 229.70) rotate(-43)" font-size="5.15" text-anchor="end" fill="#000" stroke="#000" stroke-width="0.1" font-family="Liberation Sans, Arial, sans-serif">+ONNV/+GaA</text>
<path d="M227.30 187.65V174.65M224.30 174.65H230.30" stroke="#111" stroke-width="0.7" fill="none"/>
<clipPath id="c32"><rect x="220.65" y="187.65" width="13.3" height="36.75"/></clipPath><g clip-path="url(#c32)"><path d="M220.65 188H233.95M220.65 189.6H233.95M220.65 191.2H233.95M220.65 192.8H233.95M220.65 194.4H233.95M220.65 196H233.95M220.65 197.6H233.95M220.65 199.2H233.95M220.65 200.8H233.95M220.65 202.4H233.95M220.65 204H233.95M220.65 205.6H233.95M220.65 207.2H233.95M220.65 208.8H233.95M220.65 210.4H233.95M220.65 212H233.95M220.65 213.6H233.95M220.65 215.2H233.95M220.65 216.8H233.95M220.65 218.4H233.95M220.65 220H233.95M220.65 221.6H233.95M220.65 223.2H233.95" stroke="#111" stroke-width="0.33" fill="none"/></g>
<rect x="220.65" y="187.65" width="13.3" height="36.75" fill="none" stroke="#111" stroke-width="0.6"/>
<text x="227.30" y="171.55" font-size="6.4" text-anchor="middle" fill="#111" stroke="#111" stroke-width="0.1" font-family="Liberation Sans, Arial, sans-serif">##</text>
<text transform="translate(227.30 229.70) rotate(-43)" font-size="5.15" text-anchor="end" fill="#000" stroke="#000" stroke-width="0.1" font-family="Liberation Sans, Arial, sans-serif">+ONNV/+CaA</text>
<path d="M247.25 185.9V174.65M244.25 174.65H250.25" stroke="#111" stroke-width="0.7" fill="none"/>
<clipPath id="c33"><rect x="240.6" y="185.9" width="13.3" height="38.5"/></clipPath><g clip-path="url(#c33)"><path d="M240.6 185.5H253.9M240.6 186.9H253.9M240.6 188.3H253.9M240.6 189.7H253.9M240.6 191.1H253.9M240.6 192.5H253.9M240.6 193.9H253.9M240.6 195.3H253.9M240.6 196.7H253.9M240.6 198.1H253.9M240.6 199.5H253.9M240.6 200.9H253.9M240.6 202.3H253.9M240.6 203.7H253.9M240.6 205.1H253.9M240.6 206.5H253.9M240.6 207.9H253.9M240.6 209.3H253.9M240.6 210.7H253.9M240.6 212.1H253.9M240.6 213.5H253.9M240.6 214.9H253.9M240.6 216.3H253.9M240.6 217.7H253.9M240.6 219.1H253.9M240.6 220.5H253.9M240.6 221.9H253.9M240.6 223.3H253.9M240.1 185.9V224.4M241.5 185.9V224.4M242.9 185.9V224.4M244.3 185.9V224.4M245.7 185.9V224.4M247.1 185.9V224.4M248.5 185.9V224.4M249.9 185.9V224.4M251.3 185.9V224.4M252.7 185.9V224.4" stroke="#111" stroke-width="0.32" fill="none"/></g>
<rect x="240.60" y="185.9" width="13.3" height="38.50" fill="none" stroke="#111" stroke-width="0.6"/>
<text x="247.25" y="171.55" font-size="6.4" text-anchor="middle" fill="#111" stroke="#111" stroke-width="0.1" font-family="Liberation Sans, Arial, sans-serif">##</text>
<text transform="translate(247.25 229.70) rotate(-43)" font-size="5.15" text-anchor="end" fill="#000" stroke="#000" stroke-width="0.1" font-family="Liberation Sans, Arial, sans-serif">+ONNV/+ChA</text>
<path d="M267.20 192.9V183.9M264.20 183.9H270.20" stroke="#111" stroke-width="0.7" fill="none"/>
<clipPath id="c34"><rect x="260.55" y="192.9" width="13.3" height="31.5"/></clipPath><g clip-path="url(#c34)"><path d="M258.5 192.78H274.95M259.05 193.33H274.95M258.5 193.88H274.95M259.05 194.43H274.95M258.5 194.98H274.95M259.05 195.53H274.95M258.5 196.08H274.95M259.05 196.63H274.95M258.5 197.18H274.95M259.05 197.73H274.95M258.5 198.28H274.95M259.05 198.83H274.95M258.5 199.38H274.95M259.05 199.93H274.95M258.5 200.48H274.95M259.05 201.03H274.95M258.5 201.58H274.95M259.05 202.13H274.95M258.5 202.68H274.95M259.05 203.23H274.95M258.5 203.78H274.95M259.05 204.33H274.95M258.5 204.88H274.95M259.05 205.43H274.95M258.5 205.98H274.95M259.05 206.53H274.95M258.5 207.08H274.95M259.05 207.63H274.95M258.5 208.18H274.95M259.05 208.73H274.95M258.5 209.28H274.95M259.05 209.83H274.95M258.5 210.38H274.95M259.05 210.93H274.95M258.5 211.48H274.95M259.05 212.03H274.95M258.5 212.58H274.95M259.05 213.13H274.95M258.5 213.68H274.95M259.05 214.23H274.95M258.5 214.78H274.95M259.05 215.33H274.95M258.5 215.88H274.95M259.05 216.43H274.95M258.5 216.98H274.95M259.05 217.53H274.95M258.5 218.08H274.95M259.05 218.63H274.95M258.5 219.18H274.95M259.05 219.73H274.95M258.5 220.28H274.95M259.05 220.83H274.95M258.5 221.38H274.95M259.05 221.93H274.95M258.5 222.48H274.95M259.05 223.03H274.95M258.5 223.58H274.95M259.05 224.13H274.95" stroke="#000" stroke-width="0.61" stroke-dasharray="0.62 0.48" fill="none"/></g>
<rect x="260.55" y="192.9" width="13.3" height="31.50" fill="none" stroke="#111" stroke-width="0.6"/>
<text x="267.20" y="180.05" font-size="6.4" text-anchor="middle" fill="#111" stroke="#111" stroke-width="0.1" font-family="Liberation Sans, Arial, sans-serif">###</text>
<text transform="translate(267.20 229.70) rotate(-43)" font-size="5.15" text-anchor="end" fill="#000" stroke="#000" stroke-width="0.1" font-family="Liberation Sans, Arial, sans-serif">+ONNV/+QU</text>
<path d="M287.15 185.65V175.9M284.15 175.9H290.15" stroke="#111" stroke-width="0.7" fill="none"/>
<clipPath id="c35"><rect x="280.5" y="185.65" width="13.3" height="38.75"/></clipPath><g clip-path="url(#c35)"><path d="M280.15 185.65V224.4M281.45 185.65V224.4M282.75 185.65V224.4M284.05 185.65V224.4M285.35 185.65V224.4M286.65 185.65V224.4M287.95 185.65V224.4M289.25 185.65V224.4M290.55 185.65V224.4M291.85 185.65V224.4M293.15 185.65V224.4" stroke="#111" stroke-width="0.23" fill="none"/></g>
<rect x="280.50" y="185.65" width="13.3" height="38.75" fill="none" stroke="#111" stroke-width="0.6"/>
<text x="287.15" y="172.80" font-size="6.4" text-anchor="middle" fill="#111" stroke="#111" stroke-width="0.1" font-family="Liberation Sans, Arial, sans-serif">##</text>
<text transform="translate(287.15 229.70) rotate(-43)" font-size="5.15" text-anchor="end" fill="#000" stroke="#000" stroke-width="0.1" font-family="Liberation Sans, Arial, sans-serif">+ONNV/+CU</text>
<path d="M307.10 178.4V168.9M304.10 168.9H310.10" stroke="#111" stroke-width="0.7" fill="none"/>
<clipPath id="c36"><rect x="300.45" y="178.4" width="13.3" height="46"/></clipPath><g clip-path="url(#c36)"><path d="M253.92 178.4l46 46M254.77 178.4l46 46M255.62 178.4l46 46M256.46 178.4l46 46M257.31 178.4l46 46M258.16 178.4l46 46M259.01 178.4l46 46M259.86 178.4l46 46M260.71 178.4l46 46M261.56 178.4l46 46M262.4 178.4l46 46M263.25 178.4l46 46M264.1 178.4l46 46M264.95 178.4l46 46M265.8 178.4l46 46M266.65 178.4l46 46M267.5 178.4l46 46M268.34 178.4l46 46M269.19 178.4l46 46M270.04 178.4l46 46M270.89 178.4l46 46M271.74 178.4l46 46M272.59 178.4l46 46M273.44 178.4l46 46M274.28 178.4l46 46M275.13 178.4l46 46M275.98 178.4l46 46M276.83 178.4l46 46M277.68 178.4l46 46M278.53 178.4l46 46M279.37 178.4l46 46M280.22 178.4l46 46M281.07 178.4l46 46M281.92 178.4l46 46M282.77 178.4l46 46M283.62 178.4l46 46M284.47 178.4l46 46M285.31 178.4l46 46M286.16 178.4l46 46M287.01 178.4l46 46M287.86 178.4l46 46M288.71 178.4l46 46M289.56 178.4l46 46M290.41 178.4l46 46M291.25 178.4l46 46M292.1 178.4l46 46M292.95 178.4l46 46M293.8 178.4l46 46M294.65 178.4l46 46M295.5 178.4l46 46M296.35 178.4l46 46M297.19 178.4l46 46M298.04 178.4l46 46M298.89 178.4l46 46M299.74 178.4l46 46M300.59 178.4l46 46M301.44 178.4l46 46M302.29 178.4l46 46M303.13 178.4l46 46M303.98 178.4l46 46M304.83 178.4l46 46M305.68 178.4l46 46M306.53 178.4l46 46M307.38 178.4l46 46M308.22 178.4l46 46M309.07 178.4l46 46M309.92 178.4l46 46M310.77 178.4l46 46M311.62 178.4l46 46M312.47 178.4l46 46M313.32 178.4l46 46M300.17 178.4l-46 46M301.02 178.4l-46 46M301.87 178.4l-46 46M302.72 178.4l-46 46M303.56 178.4l-46 46M304.41 178.4l-46 46M305.26 178.4l-46 46M306.11 178.4l-46 46M306.96 178.4l-46 46M307.81 178.4l-46 46M308.66 178.4l-46 46M309.5 178.4l-46 46M310.35 178.4l-46 46M311.2 178.4l-46 46M312.05 178.4l-46 46M312.9 178.4l-46 46M313.75 178.4l-46 46M314.59 178.4l-46 46M315.44 178.4l-46 46M316.29 178.4l-46 46M317.14 178.4l-46 46M317.99 178.4l-46 46M318.84 178.4l-46 46M319.69 178.4l-46 46M320.53 178.4l-46 46M321.38 178.4l-46 46M322.23 178.4l-46 46M323.08 178.4l-46 46M323.93 178.4l-46 46M324.78 178.4l-46 46M325.63 178.4l-46 46M326.47 178.4l-46 46M327.32 178.4l-46 46M328.17 178.4l-46 46M329.02 178.4l-46 46M329.87 178.4l-46 46M330.72 178.4l-46 46M331.57 178.4l-46 46M332.41 178.4l-46 46M333.26 178.4l-46 46M334.11 178.4l-46 46M334.96 178.4l-46 46M335.81 178.4l-46 46M336.66 178.4l-46 46M337.51 178.4l-46 46M338.35 178.4l-46 46M339.2 178.4l-46 46M340.05 178.4l-46 46M340.9 178.4l-46 46M341.75 178.4l-46 46M342.6 178.4l-46 46M343.44 178.4l-46 46M344.29 178.4l-46 46M345.14 178.4l-46 46M345.99 178.4l-46 46M346.84 178.4l-46 46M347.69 178.4l-46 46M348.54 178.4l-46 46M349.38 178.4l-46 46M350.23 178.4l-46 46M351.08 178.4l-46 46M351.93 178.4l-46 46M352.78 178.4l-46 46M353.63 178.4l-46 46M354.48 178.4l-46 46M355.32 178.4l-46 46M356.17 178.4l-46 46M357.02 178.4l-46 46M357.87 178.4l-46 46M358.72 178.4l-46 46M359.57 178.4l-46 46" stroke="#000" stroke-width="0.07" fill="none"/></g>
<rect x="300.45" y="178.4" width="13.3" height="46.00" fill="none" stroke="#111" stroke-width="0.6"/>
<text x="307.10" y="165.80" font-size="6.4" text-anchor="middle" fill="#111" stroke="#111" stroke-width="0.1" font-family="Liberation Sans, Arial, sans-serif">#</text>
<text transform="translate(307.10 229.70) rotate(-43)" font-size="5.15" text-anchor="end" fill="#000" stroke="#000" stroke-width="0.1" font-family="Liberation Sans, Arial, sans-serif">+ONNV/+CRE</text>
<text x="170.6" y="140.5" font-size="12" font-weight="bold" textLength="26.2" lengthAdjust="spacingAndGlyphs" fill="#000" stroke="#000" stroke-width="0.25" font-family="Liberation Sans, Arial, sans-serif">IL-1β</text>
<text transform="translate(5.8 217.5) rotate(-90)" font-size="5.8" font-weight="bold" textLength="68.6" lengthAdjust="spacingAndGlyphs" fill="#000" stroke="#000" stroke-width="0.12" font-family="Liberation Sans, Arial, sans-serif">IL-1β Mean Normalized</text>
<text transform="translate(12.9 199.4) rotate(-90)" font-size="5.8" font-weight="bold" textLength="33.2" lengthAdjust="spacingAndGlyphs" fill="#000" stroke="#000" stroke-width="0.12" font-family="Liberation Sans, Arial, sans-serif">expression</text>
<path d="M364.4 148.9V224.4H669" fill="none" stroke="#222" stroke-width="0.6"/>
<path d="M362.2 224.40H364.4" stroke="#222" stroke-width="0.6"/>
<text x="361.2" y="226.30" font-size="4.6" font-weight="bold" text-anchor="end" fill="#333" font-family="Liberation Sans, Arial, sans-serif">0</text>
<path d="M362.2 199.23H364.4" stroke="#222" stroke-width="0.6"/>
<text x="361.2" y="201.13" font-size="4.6" font-weight="bold" text-anchor="end" fill="#333" font-family="Liberation Sans, Arial, sans-serif">25</text>
<path d="M362.2 174.07H364.4" stroke="#222" stroke-width="0.6"/>
<text x="361.2" y="175.97" font-size="4.6" font-weight="bold" text-anchor="end" fill="#333" font-family="Liberation Sans, Arial, sans-serif">50</text>
<path d="M362.2 148.90H364.4" stroke="#222" stroke-width="0.6"/>
<text x="361.2" y="150.80" font-size="4.6" font-weight="bold" text-anchor="end" fill="#333" font-family="Liberation Sans, Arial, sans-serif">75</text>
<path d="M378.60 213.25V210.5M375.60 210.5H381.60" stroke="#111" stroke-width="0.7" fill="none"/>
<rect x="371.60" y="213.25" width="14.0" height="11.15" fill="#fff" stroke="#111" stroke-width="0.6"/>
<text transform="translate(378.40 229.70) rotate(-43)" font-size="5.15" text-anchor="end" fill="#000" stroke="#000" stroke-width="0.1" font-family="Liberation Sans, Arial, sans-serif">CTRL</text>
<path d="M399.78 209.5V207.25M396.78 207.25H402.78" stroke="#111" stroke-width="0.7" fill="none"/>
<clipPath id="c37"><rect x="392.78" y="209.5" width="14" height="14.9"/></clipPath><g clip-path="url(#c37)"><path d="M392.93 209.72V225.95M394.48 209.72V225.95M396.03 209.72V225.95M397.58 209.72V225.95M399.13 209.72V225.95M400.68 209.72V225.95M402.23 209.72V225.95M403.78 209.72V225.95M405.33 209.72V225.95" stroke="#333" stroke-width="0.6" stroke-dasharray="0.6 0.95" fill="none"/></g>
<rect x="392.78" y="209.5" width="14.0" height="14.90" fill="none" stroke="#111" stroke-width="0.6"/>
<text transform="translate(399.58 229.70) rotate(-43)" font-size="5.15" text-anchor="end" fill="#000" stroke="#000" stroke-width="0.1" font-family="Liberation Sans, Arial, sans-serif">+GaA</text>
<path d="M420.96 205.25V205M417.96 205H423.96" stroke="#111" stroke-width="0.7" fill="none"/>
<clipPath id="c38"><rect x="413.96" y="205.25" width="14" height="19.15"/></clipPath><g clip-path="url(#c38)"><path d="M413.96 205.6H427.96M413.96 207.2H427.96M413.96 208.8H427.96M413.96 210.4H427.96M413.96 212H427.96M413.96 213.6H427.96M413.96 215.2H427.96M413.96 216.8H427.96M413.96 218.4H427.96M413.96 220H427.96M413.96 221.6H427.96M413.96 223.2H427.96" stroke="#111" stroke-width="0.33" fill="none"/></g>
<rect x="413.96" y="205.25" width="14.0" height="19.15" fill="none" stroke="#111" stroke-width="0.6"/>
<text transform="translate(420.76 229.70) rotate(-43)" font-size="5.15" text-anchor="end" fill="#000" stroke="#000" stroke-width="0.1" font-family="Liberation Sans, Arial, sans-serif">+CaA</text>
<path d="M442.14 205.25V204.8M439.14 204.8H445.14" stroke="#111" stroke-width="0.7" fill="none"/>
<clipPath id="c39"><rect x="435.14" y="205.25" width="14" height="19.15"/></clipPath><g clip-path="url(#c39)"><path d="M435.14 205.1H449.14M435.14 206.5H449.14M435.14 207.9H449.14M435.14 209.3H449.14M435.14 210.7H449.14M435.14 212.1H449.14M435.14 213.5H449.14M435.14 214.9H449.14M435.14 216.3H449.14M435.14 217.7H449.14M435.14 219.1H449.14M435.14 220.5H449.14M435.14 221.9H449.14M435.14 223.3H449.14M434.7 205.25V224.4M436.1 205.25V224.4M437.5 205.25V224.4M438.9 205.25V224.4M440.3 205.25V224.4M441.7 205.25V224.4M443.1 205.25V224.4M444.5 205.25V224.4M445.9 205.25V224.4M447.3 205.25V224.4M448.7 205.25V224.4" stroke="#111" stroke-width="0.32" fill="none"/></g>
<rect x="435.14" y="205.25" width="14.0" height="19.15" fill="none" stroke="#111" stroke-width="0.6"/>
<text transform="translate(441.94 229.70) rotate(-43)" font-size="5.15" text-anchor="end" fill="#000" stroke="#000" stroke-width="0.1" font-family="Liberation Sans, Arial, sans-serif">+ChA</text>
<path d="M463.32 205.5V205.3M460.32 205.3H466.32" stroke="#111" stroke-width="0.7" fill="none"/>
<clipPath id="c40"><rect x="456.32" y="205.5" width="14" height="18.9"/></clipPath><g clip-path="url(#c40)"><path d="M454.85 205.43H471.42M454.3 205.98H471.42M454.85 206.53H471.42M454.3 207.08H471.42M454.85 207.63H471.42M454.3 208.18H471.42M454.85 208.73H471.42M454.3 209.28H471.42M454.85 209.83H471.42M454.3 210.38H471.42M454.85 210.93H471.42M454.3 211.48H471.42M454.85 212.03H471.42M454.3 212.58H471.42M454.85 213.13H471.42M454.3 213.68H471.42M454.85 214.23H471.42M454.3 214.78H471.42M454.85 215.33H471.42M454.3 215.88H471.42M454.85 216.43H471.42M454.3 216.98H471.42M454.85 217.53H471.42M454.3 218.08H471.42M454.85 218.63H471.42M454.3 219.18H471.42M454.85 219.73H471.42M454.3 220.28H471.42M454.85 220.83H471.42M454.3 221.38H471.42M454.85 221.93H471.42M454.3 222.48H471.42M454.85 223.03H471.42M454.3 223.58H471.42M454.85 224.13H471.42" stroke="#000" stroke-width="0.61" stroke-dasharray="0.62 0.48" fill="none"/></g>
<rect x="456.32" y="205.5" width="14.0" height="18.90" fill="none" stroke="#111" stroke-width="0.6"/>
<text transform="translate(463.12 229.70) rotate(-43)" font-size="5.15" text-anchor="end" fill="#000" stroke="#000" stroke-width="0.1" font-family="Liberation Sans, Arial, sans-serif">+QU</text>
<path d="M484.50 204.5V204M481.50 204H487.50" stroke="#111" stroke-width="0.7" fill="none"/>
<clipPath id="c41"><rect x="477.5" y="204.5" width="14" height="19.9"/></clipPath><g clip-path="url(#c41)"><path d="M477.75 204.5V224.4M479.05 204.5V224.4M480.35 204.5V224.4M481.65 204.5V224.4M482.95 204.5V224.4M484.25 204.5V224.4M485.55 204.5V224.4M486.85 204.5V224.4M488.15 204.5V224.4M489.45 204.5V224.4M490.75 204.5V224.4" stroke="#111" stroke-width="0.23" fill="none"/></g>
<rect x="477.50" y="204.5" width="14.0" height="19.90" fill="none" stroke="#111" stroke-width="0.6"/>
<text transform="translate(484.30 229.70) rotate(-43)" font-size="5.15" text-anchor="end" fill="#000" stroke="#000" stroke-width="0.1" font-family="Liberation Sans, Arial, sans-serif">+CU</text>
<path d="M505.68 205V204.5M502.68 204.5H508.68" stroke="#111" stroke-width="0.7" fill="none"/>
<clipPath id="c42"><rect x="498.68" y="205" width="14" height="19.4"/></clipPath><g clip-path="url(#c42)"><path d="M479.07 205l19.4 19.4M479.92 205l19.4 19.4M480.77 205l19.4 19.4M481.62 205l19.4 19.4M482.47 205l19.4 19.4M483.32 205l19.4 19.4M484.17 205l19.4 19.4M485.01 205l19.4 19.4M485.86 205l19.4 19.4M486.71 205l19.4 19.4M487.56 205l19.4 19.4M488.41 205l19.4 19.4M489.26 205l19.4 19.4M490.11 205l19.4 19.4M490.95 205l19.4 19.4M491.8 205l19.4 19.4M492.65 205l19.4 19.4M493.5 205l19.4 19.4M494.35 205l19.4 19.4M495.2 205l19.4 19.4M496.05 205l19.4 19.4M496.89 205l19.4 19.4M497.74 205l19.4 19.4M498.59 205l19.4 19.4M499.44 205l19.4 19.4M500.29 205l19.4 19.4M501.14 205l19.4 19.4M501.98 205l19.4 19.4M502.83 205l19.4 19.4M503.68 205l19.4 19.4M504.53 205l19.4 19.4M505.38 205l19.4 19.4M506.23 205l19.4 19.4M507.08 205l19.4 19.4M507.92 205l19.4 19.4M508.77 205l19.4 19.4M509.62 205l19.4 19.4M510.47 205l19.4 19.4M511.32 205l19.4 19.4M512.17 205l19.4 19.4M498.43 205l-19.4 19.4M499.28 205l-19.4 19.4M500.13 205l-19.4 19.4M500.98 205l-19.4 19.4M501.82 205l-19.4 19.4M502.67 205l-19.4 19.4M503.52 205l-19.4 19.4M504.37 205l-19.4 19.4M505.22 205l-19.4 19.4M506.07 205l-19.4 19.4M506.92 205l-19.4 19.4M507.76 205l-19.4 19.4M508.61 205l-19.4 19.4M509.46 205l-19.4 19.4M510.31 205l-19.4 19.4M511.16 205l-19.4 19.4M512.01 205l-19.4 19.4M512.85 205l-19.4 19.4M513.7 205l-19.4 19.4M514.55 205l-19.4 19.4M515.4 205l-19.4 19.4M516.25 205l-19.4 19.4M517.1 205l-19.4 19.4M517.95 205l-19.4 19.4M518.79 205l-19.4 19.4M519.64 205l-19.4 19.4M520.49 205l-19.4 19.4M521.34 205l-19.4 19.4M522.19 205l-19.4 19.4M523.04 205l-19.4 19.4M523.89 205l-19.4 19.4M524.73 205l-19.4 19.4M525.58 205l-19.4 19.4M526.43 205l-19.4 19.4M527.28 205l-19.4 19.4M528.13 205l-19.4 19.4M528.98 205l-19.4 19.4M529.83 205l-19.4 19.4M530.67 205l-19.4 19.4M531.52 205l-19.4 19.4" stroke="#000" stroke-width="0.07" fill="none"/></g>
<rect x="498.68" y="205" width="14.0" height="19.40" fill="none" stroke="#111" stroke-width="0.6"/>
<text transform="translate(505.48 229.70) rotate(-43)" font-size="5.15" text-anchor="end" fill="#000" stroke="#000" stroke-width="0.1" font-family="Liberation Sans, Arial, sans-serif">+CRE</text>
<path d="M526.86 170.25V167.5M523.86 167.5H529.86" stroke="#111" stroke-width="0.7" fill="none"/>
<rect x="519.86" y="170.25" width="14.0" height="54.15" fill="#000" stroke="#111" stroke-width="0.6"/>
<text x="526.86" y="165.05" font-size="7.3" font-weight="bold" text-anchor="middle" fill="#333" stroke="#333" stroke-width="0.1" font-family="Liberation Sans, Arial, sans-serif">***</text>
<text transform="translate(526.66 229.70) rotate(-43)" font-size="5.15" text-anchor="end" fill="#000" stroke="#000" stroke-width="0.1" font-family="Liberation Sans, Arial, sans-serif">+ONNV</text>
<path d="M548.04 197.25V193.25M545.04 193.25H551.04" stroke="#111" stroke-width="0.7" fill="none"/>
<clipPath id="c43"><rect x="541.04" y="197.25" width="14" height="27.15"/></clipPath><g clip-path="url(#c43)"><path d="M541.73 197.32V225.95M543.27 197.32V225.95M544.82 197.32V225.95M546.37 197.32V225.95M547.92 197.32V225.95M549.47 197.32V225.95M551.02 197.32V225.95M552.57 197.32V225.95M554.12 197.32V225.95" stroke="#333" stroke-width="0.6" stroke-dasharray="0.6 0.95" fill="none"/></g>
<rect x="541.04" y="197.25" width="14.0" height="27.15" fill="none" stroke="#111" stroke-width="0.6"/>
<text x="548.04" y="182.55" font-size="6.4" text-anchor="middle" fill="#111" stroke="#111" stroke-width="0.1" font-family="Liberation Sans, Arial, sans-serif">###</text>
<text x="548.04" y="190.05" font-size="7.3" font-weight="bold" text-anchor="middle" fill="#333" stroke="#333" stroke-width="0.1" font-family="Liberation Sans, Arial, sans-serif">**</text>
<text transform="translate(547.84 229.70) rotate(-43)" font-size="5.15" text-anchor="end" fill="#000" stroke="#000" stroke-width="0.1" font-family="Liberation Sans, Arial, sans-serif">+ONNV/+GaA</text>
<path d="M569.22 199.25V196.75M566.22 196.75H572.22" stroke="#111" stroke-width="0.7" fill="none"/>
<clipPath id="c44"><rect x="562.22" y="199.25" width="14" height="25.15"/></clipPath><g clip-path="url(#c44)"><path d="M562.22 199.2H576.22M562.22 200.8H576.22M562.22 202.4H576.22M562.22 204H576.22M562.22 205.6H576.22M562.22 207.2H576.22M562.22 208.8H576.22M562.22 210.4H576.22M562.22 212H576.22M562.22 213.6H576.22M562.22 215.2H576.22M562.22 216.8H576.22M562.22 218.4H576.22M562.22 220H576.22M562.22 221.6H576.22M562.22 223.2H576.22" stroke="#111" stroke-width="0.33" fill="none"/></g>
<rect x="562.22" y="199.25" width="14.0" height="25.15" fill="none" stroke="#111" stroke-width="0.6"/>
<text x="569.22" y="186.55" font-size="6.4" text-anchor="middle" fill="#111" stroke="#111" stroke-width="0.1" font-family="Liberation Sans, Arial, sans-serif">###</text>
<text x="569.22" y="193.80" font-size="7.3" font-weight="bold" text-anchor="middle" fill="#333" stroke="#333" stroke-width="0.1" font-family="Liberation Sans, Arial, sans-serif">**</text>
<text transform="translate(569.02 229.70) rotate(-43)" font-size="5.15" text-anchor="end" fill="#000" stroke="#000" stroke-width="0.1" font-family="Liberation Sans, Arial, sans-serif">+ONNV/+CaA</text>
<path d="M590.40 189.25V188M587.40 188H593.40" stroke="#111" stroke-width="0.7" fill="none"/>
<clipPath id="c45"><rect x="583.4" y="189.25" width="14" height="35.15"/></clipPath><g clip-path="url(#c45)"><path d="M583.4 189.7H597.4M583.4 191.1H597.4M583.4 192.5H597.4M583.4 193.9H597.4M583.4 195.3H597.4M583.4 196.7H597.4M583.4 198.1H597.4M583.4 199.5H597.4M583.4 200.9H597.4M583.4 202.3H597.4M583.4 203.7H597.4M583.4 205.1H597.4M583.4 206.5H597.4M583.4 207.9H597.4M583.4 209.3H597.4M583.4 210.7H597.4M583.4 212.1H597.4M583.4 213.5H597.4M583.4 214.9H597.4M583.4 216.3H597.4M583.4 217.7H597.4M583.4 219.1H597.4M583.4 220.5H597.4M583.4 221.9H597.4M583.4 223.3H597.4M583.1 189.25V224.4M584.5 189.25V224.4M585.9 189.25V224.4M587.3 189.25V224.4M588.7 189.25V224.4M590.1 189.25V224.4M591.5 189.25V224.4M592.9 189.25V224.4M594.3 189.25V224.4M595.7 189.25V224.4M597.1 189.25V224.4" stroke="#111" stroke-width="0.32" fill="none"/></g>
<rect x="583.40" y="189.25" width="14.0" height="35.15" fill="none" stroke="#111" stroke-width="0.6"/>
<text x="590.40" y="177.55" font-size="6.4" text-anchor="middle" fill="#111" stroke="#111" stroke-width="0.1" font-family="Liberation Sans, Arial, sans-serif">###</text>
<text x="590.40" y="184.80" font-size="7.3" font-weight="bold" text-anchor="middle" fill="#333" stroke="#333" stroke-width="0.1" font-family="Liberation Sans, Arial, sans-serif">***</text>
<text transform="translate(590.20 229.70) rotate(-43)" font-size="5.15" text-anchor="end" fill="#000" stroke="#000" stroke-width="0.1" font-family="Liberation Sans, Arial, sans-serif">+ONNV/+ChA</text>
<path d="M611.58 199V196.75M608.58 196.75H614.58" stroke="#111" stroke-width="0.7" fill="none"/>
<clipPath id="c46"><rect x="604.58" y="199" width="14" height="25.4"/></clipPath><g clip-path="url(#c46)"><path d="M603.35 198.83H619.68M602.8 199.38H619.68M603.35 199.93H619.68M602.8 200.48H619.68M603.35 201.03H619.68M602.8 201.58H619.68M603.35 202.13H619.68M602.8 202.68H619.68M603.35 203.23H619.68M602.8 203.78H619.68M603.35 204.33H619.68M602.8 204.88H619.68M603.35 205.43H619.68M602.8 205.98H619.68M603.35 206.53H619.68M602.8 207.08H619.68M603.35 207.63H619.68M602.8 208.18H619.68M603.35 208.73H619.68M602.8 209.28H619.68M603.35 209.83H619.68M602.8 210.38H619.68M603.35 210.93H619.68M602.8 211.48H619.68M603.35 212.03H619.68M602.8 212.58H619.68M603.35 213.13H619.68M602.8 213.68H619.68M603.35 214.23H619.68M602.8 214.78H619.68M603.35 215.33H619.68M602.8 215.88H619.68M603.35 216.43H619.68M602.8 216.98H619.68M603.35 217.53H619.68M602.8 218.08H619.68M603.35 218.63H619.68M602.8 219.18H619.68M603.35 219.73H619.68M602.8 220.28H619.68M603.35 220.83H619.68M602.8 221.38H619.68M603.35 221.93H619.68M602.8 222.48H619.68M603.35 223.03H619.68M602.8 223.58H619.68M603.35 224.13H619.68" stroke="#000" stroke-width="0.61" stroke-dasharray="0.62 0.48" fill="none"/></g>
<rect x="604.58" y="199" width="14.0" height="25.40" fill="none" stroke="#111" stroke-width="0.6"/>
<text x="611.58" y="187.05" font-size="6.4" text-anchor="middle" fill="#111" stroke="#111" stroke-width="0.1" font-family="Liberation Sans, Arial, sans-serif">###</text>
<text x="611.58" y="194.30" font-size="7.3" font-weight="bold" text-anchor="middle" fill="#333" stroke="#333" stroke-width="0.1" font-family="Liberation Sans, Arial, sans-serif">**</text>
<text transform="translate(611.38 229.70) rotate(-43)" font-size="5.15" text-anchor="end" fill="#000" stroke="#000" stroke-width="0.1" font-family="Liberation Sans, Arial, sans-serif">+ONNV/+QU</text>
<path d="M632.76 181V177.75M629.76 177.75H635.76" stroke="#111" stroke-width="0.7" fill="none"/>
<clipPath id="c47"><rect x="625.76" y="181" width="14" height="43.4"/></clipPath><g clip-path="url(#c47)"><path d="M625.95 181V224.4M627.25 181V224.4M628.55 181V224.4M629.85 181V224.4M631.15 181V224.4M632.45 181V224.4M633.75 181V224.4M635.05 181V224.4M636.35 181V224.4M637.65 181V224.4M638.95 181V224.4" stroke="#111" stroke-width="0.23" fill="none"/></g>
<rect x="625.76" y="181" width="14.0" height="43.40" fill="none" stroke="#111" stroke-width="0.6"/>
<text x="632.76" y="167.55" font-size="6.4" text-anchor="middle" fill="#111" stroke="#111" stroke-width="0.1" font-family="Liberation Sans, Arial, sans-serif">##</text>
<text x="632.76" y="174.80" font-size="7.3" font-weight="bold" text-anchor="middle" fill="#333" stroke="#333" stroke-width="0.1" font-family="Liberation Sans, Arial, sans-serif">***</text>
<text transform="translate(632.56 229.70) rotate(-43)" font-size="5.15" text-anchor="end" fill="#000" stroke="#000" stroke-width="0.1" font-family="Liberation Sans, Arial, sans-serif">+ONNV/+CU</text>
<path d="M653.94 182.25V179.25M650.94 179.25H656.94" stroke="#111" stroke-width="0.7" fill="none"/>
<clipPath id="c48"><rect x="646.94" y="182.25" width="14" height="42.15"/></clipPath><g clip-path="url(#c48)"><path d="M603.97 182.25l42.15 42.15M604.82 182.25l42.15 42.15M605.67 182.25l42.15 42.15M606.51 182.25l42.15 42.15M607.36 182.25l42.15 42.15M608.21 182.25l42.15 42.15M609.06 182.25l42.15 42.15M609.91 182.25l42.15 42.15M610.76 182.25l42.15 42.15M611.61 182.25l42.15 42.15M612.45 182.25l42.15 42.15M613.3 182.25l42.15 42.15M614.15 182.25l42.15 42.15M615 182.25l42.15 42.15M615.85 182.25l42.15 42.15M616.7 182.25l42.15 42.15M617.54 182.25l42.15 42.15M618.39 182.25l42.15 42.15M619.24 182.25l42.15 42.15M620.09 182.25l42.15 42.15M620.94 182.25l42.15 42.15M621.79 182.25l42.15 42.15M622.64 182.25l42.15 42.15M623.48 182.25l42.15 42.15M624.33 182.25l42.15 42.15M625.18 182.25l42.15 42.15M626.03 182.25l42.15 42.15M626.88 182.25l42.15 42.15M627.73 182.25l42.15 42.15M628.58 182.25l42.15 42.15M629.42 182.25l42.15 42.15M630.27 182.25l42.15 42.15M631.12 182.25l42.15 42.15M631.97 182.25l42.15 42.15M632.82 182.25l42.15 42.15M633.67 182.25l42.15 42.15M634.52 182.25l42.15 42.15M635.36 182.25l42.15 42.15M636.21 182.25l42.15 42.15M637.06 182.25l42.15 42.15M637.91 182.25l42.15 42.15M638.76 182.25l42.15 42.15M639.61 182.25l42.15 42.15M640.46 182.25l42.15 42.15M641.3 182.25l42.15 42.15M642.15 182.25l42.15 42.15M643 182.25l42.15 42.15M643.85 182.25l42.15 42.15M644.7 182.25l42.15 42.15M645.55 182.25l42.15 42.15M646.39 182.25l42.15 42.15M647.24 182.25l42.15 42.15M648.09 182.25l42.15 42.15M648.94 182.25l42.15 42.15M649.79 182.25l42.15 42.15M650.64 182.25l42.15 42.15M651.49 182.25l42.15 42.15M652.33 182.25l42.15 42.15M653.18 182.25l42.15 42.15M654.03 182.25l42.15 42.15M654.88 182.25l42.15 42.15M655.73 182.25l42.15 42.15M656.58 182.25l42.15 42.15M657.43 182.25l42.15 42.15M658.27 182.25l42.15 42.15M659.12 182.25l42.15 42.15M659.97 182.25l42.15 42.15M660.82 182.25l42.15 42.15M646.76 182.25l-42.15 42.15M647.61 182.25l-42.15 42.15M648.46 182.25l-42.15 42.15M649.31 182.25l-42.15 42.15M650.16 182.25l-42.15 42.15M651 182.25l-42.15 42.15M651.85 182.25l-42.15 42.15M652.7 182.25l-42.15 42.15M653.55 182.25l-42.15 42.15M654.4 182.25l-42.15 42.15M655.25 182.25l-42.15 42.15M656.1 182.25l-42.15 42.15M656.94 182.25l-42.15 42.15M657.79 182.25l-42.15 42.15M658.64 182.25l-42.15 42.15M659.49 182.25l-42.15 42.15M660.34 182.25l-42.15 42.15M661.19 182.25l-42.15 42.15M662.04 182.25l-42.15 42.15M662.88 182.25l-42.15 42.15M663.73 182.25l-42.15 42.15M664.58 182.25l-42.15 42.15M665.43 182.25l-42.15 42.15M666.28 182.25l-42.15 42.15M667.13 182.25l-42.15 42.15M667.98 182.25l-42.15 42.15M668.82 182.25l-42.15 42.15M669.67 182.25l-42.15 42.15M670.52 182.25l-42.15 42.15M671.37 182.25l-42.15 42.15M672.22 182.25l-42.15 42.15M673.07 182.25l-42.15 42.15M673.91 182.25l-42.15 42.15M674.76 182.25l-42.15 42.15M675.61 182.25l-42.15 42.15M676.46 182.25l-42.15 42.15M677.31 182.25l-42.15 42.15M678.16 182.25l-42.15 42.15M679.01 182.25l-42.15 42.15M679.85 182.25l-42.15 42.15M680.7 182.25l-42.15 42.15M681.55 182.25l-42.15 42.15M682.4 182.25l-42.15 42.15M683.25 182.25l-42.15 42.15M684.1 182.25l-42.15 42.15M684.95 182.25l-42.15 42.15M685.79 182.25l-42.15 42.15M686.64 182.25l-42.15 42.15M687.49 182.25l-42.15 42.15M688.34 182.25l-42.15 42.15M689.19 182.25l-42.15 42.15M690.04 182.25l-42.15 42.15M690.89 182.25l-42.15 42.15M691.73 182.25l-42.15 42.15M692.58 182.25l-42.15 42.15M693.43 182.25l-42.15 42.15M694.28 182.25l-42.15 42.15M695.13 182.25l-42.15 42.15M695.98 182.25l-42.15 42.15M696.83 182.25l-42.15 42.15M697.67 182.25l-42.15 42.15M698.52 182.25l-42.15 42.15M699.37 182.25l-42.15 42.15M700.22 182.25l-42.15 42.15M701.07 182.25l-42.15 42.15M701.92 182.25l-42.15 42.15M702.76 182.25l-42.15 42.15" stroke="#000" stroke-width="0.07" fill="none"/></g>
<rect x="646.94" y="182.25" width="14.0" height="42.15" fill="none" stroke="#111" stroke-width="0.6"/>
<text x="653.94" y="169.55" font-size="6.4" text-anchor="middle" fill="#111" stroke="#111" stroke-width="0.1" font-family="Liberation Sans, Arial, sans-serif">###</text>
<text x="653.94" y="176.80" font-size="7.3" font-weight="bold" text-anchor="middle" fill="#333" stroke="#333" stroke-width="0.1" font-family="Liberation Sans, Arial, sans-serif">***</text>
<text transform="translate(653.74 229.70) rotate(-43)" font-size="5.15" text-anchor="end" fill="#000" stroke="#000" stroke-width="0.1" font-family="Liberation Sans, Arial, sans-serif">+ONNV/+CRE</text>
<text x="488.6" y="142.8" font-size="12.3" font-weight="bold" textLength="26.3" lengthAdjust="spacingAndGlyphs" fill="#000" stroke="#000" stroke-width="0.25" font-family="Liberation Sans, Arial, sans-serif">IL-1β</text>
<text transform="translate(352.7 213.2) rotate(-90)" font-size="5.2" font-weight="bold" textLength="58.2" lengthAdjust="spacingAndGlyphs" fill="#000" stroke="#000" stroke-width="0.12" font-family="Liberation Sans, Arial, sans-serif">IL1-β secretion (pg/mL)</text>
<path d="M11.2 15V50" stroke="#222" stroke-width="0.5"/>
<text x="1.9" y="127" font-size="14" font-weight="bold" fill="#000" stroke="#000" stroke-width="0.35" font-family="Liberation Sans, Arial, sans-serif">A</text>
<text x="342.1" y="127" font-size="14" font-weight="bold" fill="#000" stroke="#000" stroke-width="0.3" font-family="Liberation Sans, Arial, sans-serif">B</text>
<rect x="9.6" y="269.6" width="1" height="1" fill="#555"/>
</svg></body></html>
